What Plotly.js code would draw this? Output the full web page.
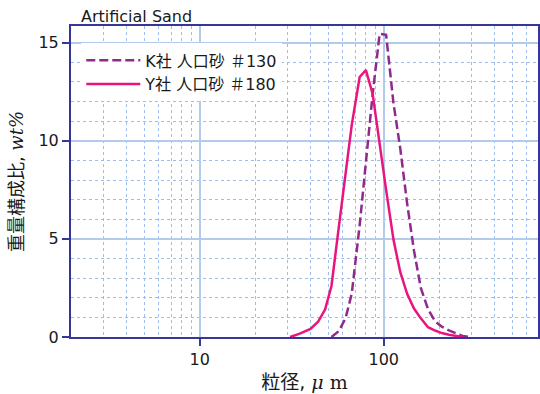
<!DOCTYPE html>
<html>
<head>
<meta charset="utf-8">
<script src="https://cdn.plot.ly/plotly-3.0.1.min.js"></script>
<style>html,body{margin:0;padding:0;background:#fff}#chart{width:540px;height:394px}</style>
</head>
<body>
<div id="chart"></div>
<script>
// Particle size (µm) bins and weight fractions (wt%)
const sizeK = [52, 57, 62, 67, 74, 80, 87, 95, 103, 113, 123, 134, 146, 159, 174, 190, 207, 226, 246, 268, 292];
const wtK   = [0, 0.3, 0.95, 2.2, 5.7, 8.8, 12.35, 15.45, 15.4, 11.9, 9.6, 6.8, 4.4, 2.5, 1.42, 0.8, 0.52, 0.34, 0.2, 0.05, 0];

const sizeY = [31, 35, 40, 44, 48, 52, 57, 62, 67, 74, 80, 87, 95, 103, 113, 123, 134, 146, 159, 174, 190, 207, 226, 246, 268];
const wtY   = [0, 0.17, 0.41, 0.78, 1.4, 2.6, 5.6, 8.45, 10.8, 13.25, 13.6, 12.4, 9.77, 7.5, 4.95, 3.3, 2.2, 1.45, 0.95, 0.5, 0.33, 0.2, 0.12, 0.05, 0];

const nameK = 'K社 人口砂 ＃130';
const nameY = 'Y社 人口砂 ＃180';
const chartTitle = 'Artificial Sand';
const xTitle = '粒径, <span style="font-family:DejaVu Serif;font-style:italic">μ</span> <span style="font-family:DejaVu Serif">m</span>';
const yTitle = '重量構成比, <span style="font-family:DejaVu Serif;font-style:italic">wt%</span>';

const FONT = 'DejaVu Sans, Noto Sans CJK JP, sans-serif';
const NAVY = '#35359a';
const GRID = '#b3cbea';
const MINOR = '#9fbde6';

const traces = [
  {x: sizeK, y: wtK, name: nameK, type: 'scatter', mode: 'lines',
   line: {color: '#8e2a8e', width: 2.5, dash: '9px,4px'}},
  {x: sizeY, y: wtY, name: nameY, type: 'scatter', mode: 'lines',
   line: {color: '#e8157f', width: 2.5}}
];

const layout = {
  width: 540, height: 394,
  margin: {l: 71, r: 2, t: 26, b: 57},
  paper_bgcolor: '#fff', plot_bgcolor: '#fff',
  font: {family: FONT, size: 16, color: '#1a1a1a'},
  showlegend: true,
  title: {text: chartTitle, x: 81/540, xanchor: 'left', xref: 'container',
          y: 1 - 16/394, yanchor: 'middle', yref: 'container',
          font: {family: FONT, size: 16, color: '#1a1a1a'}},
  legend: {x: 0.022, y: 0.944, xanchor: 'left', yanchor: 'top',
           bgcolor: '#fff', borderwidth: 0, itemwidth: 54,
           font: {family: FONT, size: 16, color: '#1a1a1a'}},
  xaxis: {
    type: 'log', range: [0.301, 2.838], dtick: 1,
    showline: true, linecolor: NAVY, linewidth: 2, mirror: true,
    ticks: 'outside', ticklen: 7, tickwidth: 2, tickcolor: NAVY,
    showgrid: true, gridcolor: GRID, gridwidth: 2,
    zeroline: false,
    tickfont: {family: FONT, size: 16, color: '#1a1a1a'},
    minor: {dtick: 'D1', showgrid: true, gridcolor: MINOR, gridwidth: 1, griddash: 'dot', ticks: ''},
    title: {text: xTitle, standoff: 7, font: {family: FONT, size: 19, color: '#1a1a1a'}}
  },
  yaxis: {
    range: [0, 15.85], dtick: 5,
    showline: true, linecolor: NAVY, linewidth: 2, mirror: true,
    ticks: 'outside', ticklen: 7, tickwidth: 2, tickcolor: NAVY,
    showgrid: true, gridcolor: GRID, gridwidth: 2,
    zeroline: false,
    tickfont: {family: FONT, size: 16, color: '#1a1a1a'},
    minor: {dtick: 1, showgrid: true, gridcolor: MINOR, gridwidth: 1, griddash: 'dot', ticks: ''},
    title: {text: yTitle, standoff: 10, font: {family: FONT, size: 18, color: '#1a1a1a'}}
  }
};

Plotly.newPlot('chart', traces, layout, {staticPlot: true, displayModeBar: false});
</script>
</body>
</html>
